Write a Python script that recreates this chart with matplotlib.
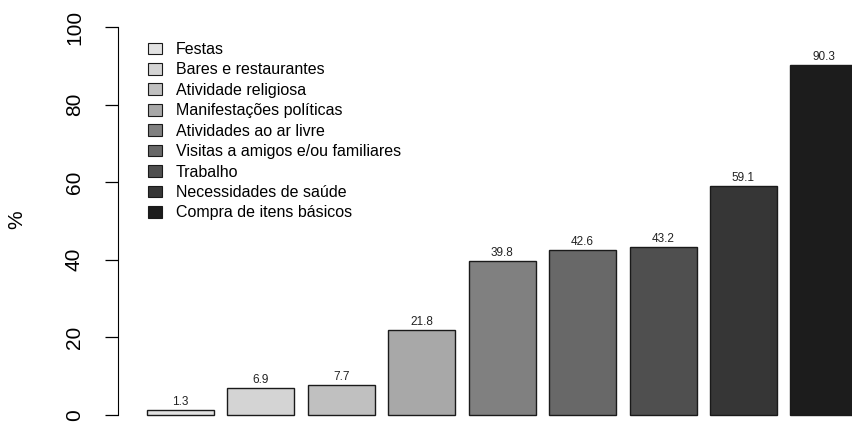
import matplotlib.pyplot as plt
from matplotlib.patches import Patch

plt.rcParams['font.family'] = ['Liberation Sans', 'DejaVu Sans']

categorias = ['Festas', 'Bares e restaurantes', 'Atividade religiosa',
              'Manifestações políticas', 'Atividades ao ar livre',
              'Visitas a amigos e/ou familiares', 'Trabalho',
              'Necessidades de saúde', 'Compra de itens básicos']
valores = [1.3, 6.9, 7.7, 21.8, 39.8, 42.6, 43.2, 59.1, 90.3]
cores = ['#e2e2e2', '#d4d4d4', '#c0c0c0', '#a8a8a8', '#808080',
         '#686868', '#4f4f4f', '#363636', '#1c1c1c']
yticks = [0, 20, 40, 60, 80, 100]

W, H = 852, 422
fig = plt.figure(figsize=(W / 100, H / 100), dpi=100)
# axes placed in pixel terms: left edge at the y axis line
ax = fig.add_axes([118 / W, 0, 1 - 118 / W, 1])

# R barplot style positions: width 1, space 0.2
x = [0.2 + 1.2 * i + 0.5 for i in range(len(valores))]
ax.bar(x, valores, width=1.0, color=cores, edgecolor='#1a1a1a', linewidth=1.0)
for xi, v in zip(x, valores):
    ax.text(xi, v + 0.5, f'{v:.1f}', ha='center', va='bottom', fontsize=8.5, color='#222222')

ax.set_xlim(-0.233, 10.72)
ax.set_ylim(-7 / 3.88, 100 + 27 / 3.88)

for s in ['top', 'right', 'bottom']:
    ax.spines[s].set_visible(False)
ax.spines['left'].set_bounds(0, 100)
ax.set_xticks([])
ax.set_yticks(yticks)
ax.set_yticklabels([str(t) for t in yticks], rotation=90, va='center', fontsize=15)
ax.tick_params(axis='y', length=9.5, width=0.9, pad=15)

fig.text(17 / W, 1 - 220 / H, '%', rotation=90, ha='center', va='center', fontsize=15)

handles = [Patch(facecolor=c, edgecolor='#1a1a1a', linewidth=0.8) for c in cores]
ax.legend(handles, categorias, loc='upper left', bbox_to_anchor=(148 / W, 1 - 42 / H),
          bbox_transform=fig.transFigure, frameon=False, fontsize=11.5,
          handlelength=0.85, handleheight=0.75, handletextpad=0.9,
          labelspacing=0.34, borderpad=0, borderaxespad=0)

fig.savefig('out.png', dpi=100)
